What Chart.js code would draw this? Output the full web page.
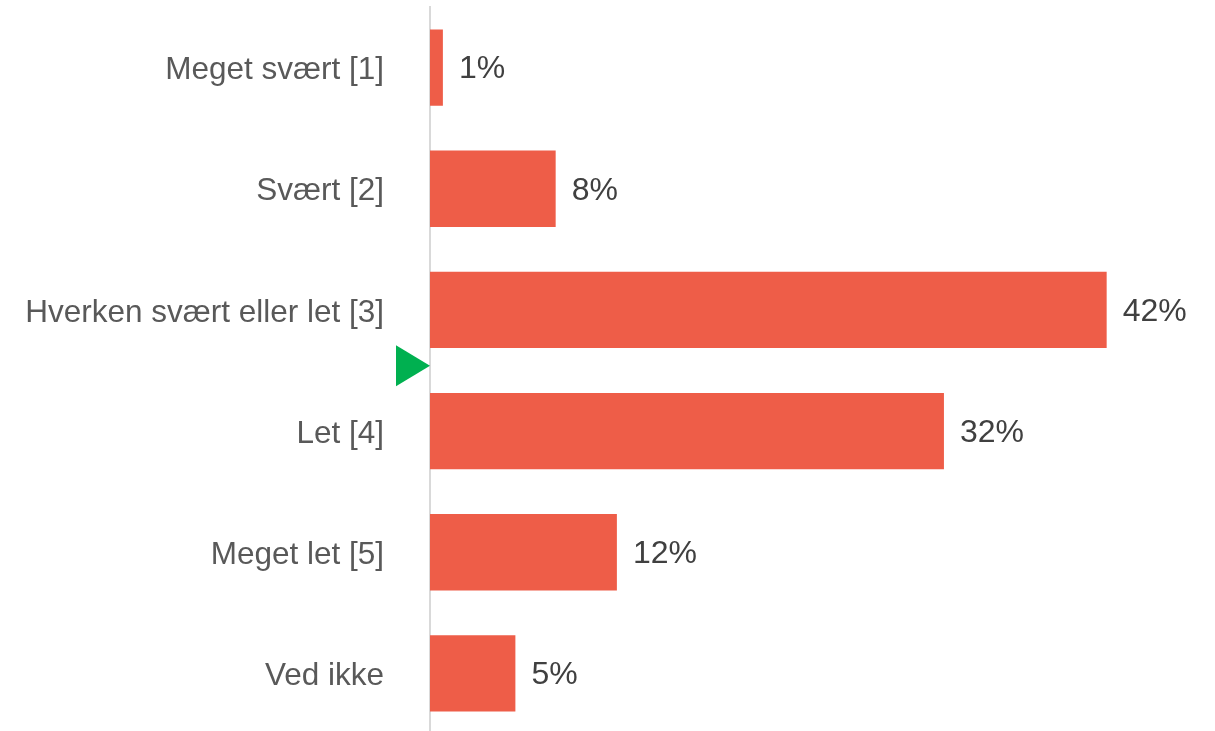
<!DOCTYPE html>
<html>
<head>
<meta charset="utf-8">
<script src="https://cdn.jsdelivr.net/npm/chart.js@4.4.1/dist/chart.umd.min.js"></script>
<style>
  html, body { margin: 0; padding: 0; background: #fff; overflow: hidden; }
  #wrap { width: 1215px; height: 735px; }
</style>
</head>
<body>
<div id="wrap"><canvas id="grafico"></canvas></div>
<script>
const kategorier = ['Meget svært [1]', 'Svært [2]', 'Hverken svært eller let [3]', 'Let [4]', 'Meget let [5]', 'Ved ikke'];
const andele = [0.8, 7.8, 42, 31.9, 11.6, 5.3];
const gennemsnit = 3.46; // skala 1-5, vises som grøn pil

// etiketter paa enden af bjaelkerne
const etiketPlugin = {
  id: 'etiketter',
  afterDatasetsDraw(chart) {
    const ctx = chart.ctx;
    const meta = chart.getDatasetMeta(0);
    ctx.save();
    ctx.font = '32px "Liberation Sans", Arial, sans-serif';
    ctx.fillStyle = '#404040';
    ctx.textAlign = 'left';
    ctx.textBaseline = 'middle';
    meta.data.forEach((bar, i) => {
      ctx.fillText(Math.round(andele[i]) + '%', bar.x + 16, bar.y + 2);
    });
    ctx.restore();
  }
};

// pil for gennemsnittet
const pilPlugin = {
  id: 'pil',
  afterDraw(chart) {
    const ctx = chart.ctx;
    const y = chart.scales.y.getPixelForValue(gennemsnit - 1);
    const x = chart.scales.x.getPixelForValue(0);
    ctx.save();
    ctx.fillStyle = '#00B050';
    ctx.beginPath();
    ctx.moveTo(x, y);
    ctx.lineTo(x - 34, y - 20.5);
    ctx.lineTo(x - 34, y + 20.5);
    ctx.closePath();
    ctx.fill();
    ctx.restore();
  }
};

const ctx = document.getElementById('grafico').getContext('2d');
new Chart(ctx, {
  type: 'bar',
  data: {
    labels: kategorier,
    datasets: [{
      data: andele,
      backgroundColor: '#EE5D48',
      categoryPercentage: 1,
      barPercentage: 0.63
    }]
  },
  options: {
    indexAxis: 'y',
    responsive: true,
    maintainAspectRatio: false,
    animation: false,
    layout: { padding: { top: 7, right: 60, bottom: 1, left: 0 } },
    plugins: {
      legend: { display: false },
      tooltip: { enabled: false }
    },
    scales: {
      x: {
        display: false,
        min: 0,
        max: 45
      },
      y: {
        afterFit: (scale) => {
          scale.width = 430;
          scale.paddingTop = 0;
          scale.paddingBottom = 0;
        },
        grid: { display: false, drawTicks: false },
        border: { display: true, color: '#D9D9D9', width: 2 },
        ticks: {
          color: '#595959',
          padding: 46,
          labelOffset: 3,
          font: { family: '"Liberation Sans", Arial, sans-serif', size: 31.5 }
        }
      }
    }
  },
  plugins: [etiketPlugin, pilPlugin]
});
</script>
</body>
</html>
